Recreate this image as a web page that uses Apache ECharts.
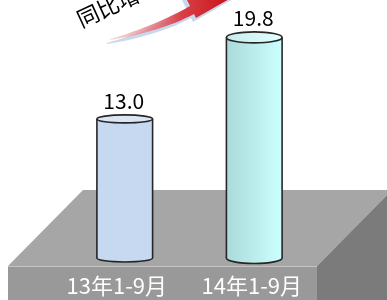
<!DOCTYPE html>
<html>
	<head>
		<meta charset="utf-8">
		<title>同比增长</title>
		<style>
			html, body {
				width: 100%;
				height: 100%;
				margin: 0;
				padding: 0;
				background: #fff;
			}
			#main {
				width: 387px;
				height: 300px;
			}
		</style>
	</head>
	<body>
		<div id="main"></div>
		<script src="https://cdn.jsdelivr.net/npm/echarts@6/dist/echarts.min.js"></script>
		<script>
			var categories = ['13年1-9月', '14年1-9月'];
			var values = [13.0, 19.8];
			var growthText = '同比增长52.3%';

			var yMin = 1.4, yMax = 22;
			var font = '"Noto Sans CJK SC", "Noto Sans", sans-serif';
			// label nudges (px to the left) and cylinder looks, one per bar
			var labelShift = [16, 5];
			var looks = [
				{ body: '#c6d9f0', top: '#dce6f3', ry: 4 },
				{
					body: { type: 'linear', x: 0, y: 0, x2: 1, y2: 0, colorStops: [{ offset: 0, color: '#abdada' }, { offset: 1, color: '#ccffff' }] },
					top: { type: 'linear', x: 0, y: 0, x2: 1, y2: 0, colorStops: [{ offset: 0, color: '#c6ecec' }, { offset: 1, color: '#e4ffff' }] },
					ry: 5.5
				}
			];

			// points along a quadratic curve, for the arrow band
			function quad(p0, p1, p2, n) {
				var pts = [];
				for (var k = 0; k <= n; k++) {
					var t = k / n, u = 1 - t;
					pts.push([u * u * p0[0] + 2 * u * t * p1[0] + t * t * p2[0], u * u * p0[1] + 2 * u * t * p1[1] + t * t * p2[1]]);
				}
				return pts;
			}
			var lower = quad([110, 40], [160, 32], [194, 14], 16);
			var upper = quad([190, 6], [155, 26], [110, 39], 16);
			var arrowPts = lower.concat([[196, 18], [252, -14], [184, -6]]).concat(upper);
			var shadowPts = arrowPts.map(function(p) { return [p[0] - 3, p[1] + 4]; });

			var chart = echarts.init(document.getElementById('main'), null, { renderer: 'canvas' });
			chart.setOption({
				animation: false,
				grid: { left: 60, width: 259, top: 11, bottom: 42 },
				xAxis: {
					type: 'category',
					data: categories.map(function(c, i) {
						return { value: c, textStyle: { padding: [0, labelShift[i], 0, 0] } };
					}),
					axisLine: { show: false },
					axisTick: { show: false },
					axisLabel: {
						interval: 0,
						hideOverlap: false,
						color: '#fff',
						fontSize: 22,
						fontFamily: font,
						margin: 17
					},
					z: 5
				},
				yAxis: { type: 'value', min: yMin, max: yMax, show: false },
				graphic: [
					{ type: 'polygon', z: 0, shape: { points: [[83, 190], [392, 190], [317, 266], [8, 266]] }, style: { fill: '#a6a6a6' } },
					{ type: 'polygon', z: 0, shape: { points: [[8, 266], [317, 266], [317, 305], [8, 305]] }, style: { fill: '#999999' } },
					{ type: 'polygon', z: 0, shape: { points: [[317, 266], [392, 190], [392, 305], [317, 305]] }, style: { fill: '#7b7b7b' } },
					{ type: 'line', z: 0, shape: { x1: 8, y1: 266.5, x2: 317, y2: 266.5 }, style: { stroke: '#c4c4c4', lineWidth: 1 } },
					{
						type: 'text', z: 1, x: 78, y: 20.5, rotation: 0.43,
						style: { text: growthText, font: '22px ' + font, fill: '#000', textAlign: 'left', textVerticalAlign: 'middle' }
					},
					{ type: 'polygon', z: 1, shape: { points: shadowPts }, style: { fill: '#c9d8ec' } },
					{
						type: 'polygon', z: 1, shape: { points: arrowPts },
						style: {
							fill: { type: 'linear', x: 0, y: 0, x2: 1, y2: 0, colorStops: [{ offset: 0, color: 'rgba(240,200,205,0.6)' }, { offset: 0.5, color: '#d9404a' }, { offset: 1, color: '#c00000' }] }
						}
					}
				],
				series: [{
					type: 'custom',
					z: 3,
					data: values.map(function(v, i) { return [i, v]; }),
					renderItem: function(params, api) {
						var i = params.dataIndex;
						var top = api.coord([api.value(0), api.value(1)]);
						var base = api.coord([api.value(0), yMin]);
						var w = api.size([1, 0])[0] * 0.43;
						var cx = top[0], rx = w / 2, ry = looks[i].ry;
						var edge = { stroke: '#262626', lineWidth: 1.6 };
						return {
							type: 'group',
							children: [
								{ type: 'ellipse', shape: { cx: cx, cy: base[1], rx: rx, ry: ry }, style: { fill: looks[i].body, stroke: edge.stroke, lineWidth: edge.lineWidth } },
								{ type: 'rect', shape: { x: cx - rx, y: top[1], width: w, height: base[1] - top[1] }, style: { fill: looks[i].body } },
								{ type: 'line', shape: { x1: cx - rx, y1: top[1], x2: cx - rx, y2: base[1] }, style: edge },
								{ type: 'line', shape: { x1: cx + rx, y1: top[1], x2: cx + rx, y2: base[1] }, style: edge },
								{ type: 'ellipse', shape: { cx: cx, cy: top[1], rx: rx, ry: ry }, style: { fill: looks[i].top, stroke: edge.stroke, lineWidth: edge.lineWidth } },
								{
									type: 'text',
									style: {
										text: api.value(1).toFixed(1),
										x: cx - 1, y: top[1] - ry - 3,
										font: '21px ' + font,
										fill: '#000',
										textAlign: 'center',
										textVerticalAlign: 'bottom'
									}
								}
							]
						};
					}
				}]
			});
		</script>
	</body>
</html>
